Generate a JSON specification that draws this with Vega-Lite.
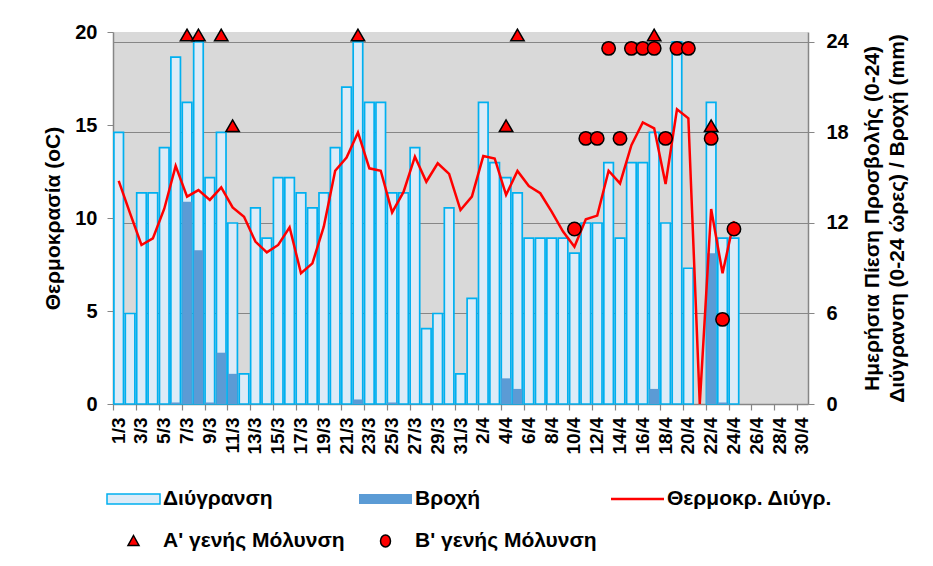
{
  "$schema": "https://vega.github.io/schema/vega-lite/v6.json",
  "width": 695,
  "height": 372,
  "autosize": {"type": "none"},
  "padding": {"left": 113, "top": 32, "right": 125, "bottom": 162},
  "background": "white",
  "config": {
    "font": "Liberation Sans",
    "view": {"fill": "#D9D9D9", "stroke": null},
    "axis": {"labelFont": "Liberation Sans", "labelFontWeight": "bold", "labelColor": "black", "titleFont": "Liberation Sans", "titleFontWeight": "bold", "titleColor": "black", "domainColor": "#868686", "tickColor": "#868686", "gridColor": "#868686"}
  },
  "data": {"values": [
    {"d": "1/3", "wet": 18, "rain": null, "temp": 12.0, "a": null, "b": null},
    {"d": "2/3", "wet": 6, "rain": null, "temp": 10.25, "a": null, "b": null},
    {"d": "3/3", "wet": 14, "rain": null, "temp": 8.55, "a": null, "b": null},
    {"d": "4/3", "wet": 14, "rain": null, "temp": 8.9, "a": null, "b": null},
    {"d": "5/3", "wet": 17, "rain": null, "temp": 10.5, "a": null, "b": null},
    {"d": "6/3", "wet": 23, "rain": 0.1, "temp": 12.8, "a": null, "b": null},
    {"d": "7/3", "wet": 20, "rain": 13.4, "temp": 11.15, "a": 19.84, "b": null},
    {"d": "8/3", "wet": 24, "rain": 10.2, "temp": 11.5, "a": 19.84, "b": null},
    {"d": "9/3", "wet": 15, "rain": 0.1, "temp": 10.97, "a": null, "b": null},
    {"d": "10/3", "wet": 18, "rain": 3.4, "temp": 11.65, "a": 19.84, "b": null},
    {"d": "11/3", "wet": 12, "rain": 2.0, "temp": 10.57, "a": 14.96, "b": null},
    {"d": "12/3", "wet": 2, "rain": null, "temp": 10.07, "a": null, "b": null},
    {"d": "13/3", "wet": 13, "rain": null, "temp": 8.73, "a": null, "b": null},
    {"d": "14/3", "wet": 11, "rain": null, "temp": 8.15, "a": null, "b": null},
    {"d": "15/3", "wet": 15, "rain": null, "temp": 8.55, "a": null, "b": null},
    {"d": "16/3", "wet": 15, "rain": null, "temp": 9.5, "a": null, "b": null},
    {"d": "17/3", "wet": 14, "rain": null, "temp": 7.03, "a": null, "b": null},
    {"d": "18/3", "wet": 13, "rain": null, "temp": 7.56, "a": null, "b": null},
    {"d": "19/3", "wet": 14, "rain": null, "temp": 9.53, "a": null, "b": null},
    {"d": "20/3", "wet": 17, "rain": null, "temp": 12.54, "a": null, "b": null},
    {"d": "21/3", "wet": 21, "rain": null, "temp": 13.25, "a": null, "b": null},
    {"d": "22/3", "wet": 24, "rain": 0.3, "temp": 14.6, "a": 19.84, "b": null},
    {"d": "23/3", "wet": 20, "rain": null, "temp": 12.67, "a": null, "b": null},
    {"d": "24/3", "wet": 20, "rain": null, "temp": 12.54, "a": null, "b": null},
    {"d": "25/3", "wet": 14, "rain": 0.1, "temp": 10.3, "a": null, "b": null},
    {"d": "26/3", "wet": 14, "rain": null, "temp": 11.4, "a": null, "b": null},
    {"d": "27/3", "wet": 17, "rain": null, "temp": 13.3, "a": null, "b": null},
    {"d": "28/3", "wet": 5, "rain": null, "temp": 11.95, "a": null, "b": null},
    {"d": "29/3", "wet": 6, "rain": null, "temp": 12.94, "a": null, "b": null},
    {"d": "30/3", "wet": 13, "rain": null, "temp": 12.37, "a": null, "b": null},
    {"d": "31/3", "wet": 2, "rain": null, "temp": 10.43, "a": null, "b": null},
    {"d": "1/4", "wet": 7, "rain": null, "temp": 11.15, "a": null, "b": null},
    {"d": "2/4", "wet": 20, "rain": null, "temp": 13.33, "a": null, "b": null},
    {"d": "3/4", "wet": 16, "rain": null, "temp": 13.2, "a": null, "b": null},
    {"d": "4/4", "wet": 15, "rain": 1.7, "temp": 11.24, "a": 14.96, "b": null},
    {"d": "5/4", "wet": 14, "rain": 1.0, "temp": 12.53, "a": 19.84, "b": null},
    {"d": "6/4", "wet": 11, "rain": null, "temp": 11.72, "a": null, "b": null},
    {"d": "7/4", "wet": 11, "rain": null, "temp": 11.33, "a": null, "b": null},
    {"d": "8/4", "wet": 11, "rain": null, "temp": 10.34, "a": null, "b": null},
    {"d": "9/4", "wet": 11, "rain": null, "temp": 9.27, "a": null, "b": null},
    {"d": "10/4", "wet": 10, "rain": null, "temp": 8.46, "a": null, "b": 9.41},
    {"d": "11/4", "wet": 12, "rain": null, "temp": 9.93, "a": null, "b": 14.28},
    {"d": "12/4", "wet": 12, "rain": null, "temp": 10.13, "a": null, "b": 14.28},
    {"d": "13/4", "wet": 16, "rain": null, "temp": 12.54, "a": null, "b": 19.12},
    {"d": "14/4", "wet": 11, "rain": null, "temp": 11.86, "a": null, "b": 14.28},
    {"d": "15/4", "wet": 16, "rain": null, "temp": 13.92, "a": null, "b": 19.12},
    {"d": "16/4", "wet": 16, "rain": null, "temp": 15.14, "a": null, "b": 19.12},
    {"d": "17/4", "wet": 18, "rain": 1.0, "temp": 14.82, "a": 19.84, "b": 19.12},
    {"d": "18/4", "wet": 12, "rain": null, "temp": 11.83, "a": null, "b": 14.28},
    {"d": "19/4", "wet": 24, "rain": null, "temp": 15.84, "a": null, "b": 19.12},
    {"d": "20/4", "wet": 9, "rain": null, "temp": 15.36, "a": null, "b": 19.12},
    {"d": "21/4", "wet": null, "rain": null, "temp": 0, "a": null, "b": null},
    {"d": "22/4", "wet": 20, "rain": 10, "temp": 10.48, "a": 14.96, "b": 14.28},
    {"d": "23/4", "wet": 11, "rain": 0.1, "temp": 7.03, "a": null, "b": 4.55},
    {"d": "24/4", "wet": 11, "rain": null, "temp": 9.84, "a": null, "b": 9.41},
    {"d": "25/4", "wet": null, "rain": null, "temp": null, "a": null, "b": null},
    {"d": "26/4", "wet": null, "rain": null, "temp": null, "a": null, "b": null},
    {"d": "27/4", "wet": null, "rain": null, "temp": null, "a": null, "b": null},
    {"d": "28/4", "wet": null, "rain": null, "temp": null, "a": null, "b": null},
    {"d": "29/4", "wet": null, "rain": null, "temp": null, "a": null, "b": null},
    {"d": "30/4", "wet": null, "rain": null, "temp": null, "a": null, "b": null}
  ]},
  "layer": [
    {
      "layer": [
        {
          "mark": {"type": "bar", "stroke": "#00B0F0", "strokeWidth": 1.7},
          "encoding": {
            "x": {"field": "d", "type": "ordinal", "sort": null,
              "scale": {"paddingInner": 0.16, "paddingOuter": 0.08,
                "domain": ["1/3","2/3","3/3","4/3","5/3","6/3","7/3","8/3","9/3","10/3","11/3","12/3","13/3","14/3","15/3","16/3","17/3","18/3","19/3","20/3","21/3","22/3","23/3","24/3","25/3","26/3","27/3","28/3","29/3","30/3","31/3","1/4","2/4","3/4","4/4","5/4","6/4","7/4","8/4","9/4","10/4","11/4","12/4","13/4","14/4","15/4","16/4","17/4","18/4","19/4","20/4","21/4","22/4","23/4","24/4","25/4","26/4","27/4","28/4","29/4","30/4"]},
              "axis": {"orient": "bottom", "title": null, "values": ["1/3","3/3","5/3","7/3","9/3","11/3","13/3","15/3","17/3","19/3","21/3","23/3","25/3","27/3","29/3","31/3","2/4","4/4","6/4","8/4","10/4","12/4","14/4","16/4","18/4","20/4","22/4","24/4","26/4","28/4","30/4"],
                "ticks": false, "domain": true, "domainWidth": 1.5, "labelAngle": 270, "labelAlign": "right", "labelBaseline": "middle", "labelFontSize": 19, "labelPadding": 13}},
            "y": {"field": "wet", "type": "quantitative", "scale": {"domain": [0, 24.66], "nice": false},
              "axis": {"orient": "right", "values": [0, 6, 12, 18, 24], "grid": true, "gridWidth": 1.2, "tickSize": 6, "labelFontSize": 20, "labelPadding": 12, "domainWidth": 1.5,
                "title": ["Ημερήσια Πίεση Προσβολής (0-24)", "Διύγρανση  (0-24 ώρες)  / Βροχή (mm)"], "titleFontSize": 21, "titleAngle": 270, "titleBaseline": "middle", "titleAlign": "center", "titleX": 64, "titleLineHeight": 25}},
            "color": {"datum": "Διύγρανση", "type": "nominal",
              "scale": {"domain": ["Διύγρανση", "Βροχή", "Θερμοκρ. Διύγρ.", "Α' γενής Μόλυνση", "Β' γενής Μόλυνση"], "range": ["#DDEBF7", "#5B9BD5", "#FF0000", "#FF0000", "#FF0000"]},
              "legend": {"orient": "none", "legendX": 9.5, "legendY": 456, "direction": "horizontal", "columns": 3, "title": null, "padding": 0,
                "symbolSize": 400, "symbolStrokeWidth": 1.5, "symbolOpacity": 1,
                "symbolType": {"expr": "datum.index < 2 ? 'M-2.65,-0.5H2.65V0.5H-2.65Z' : datum.index == 2 ? 'M-2.65,-0.12H2.65V0.12H-2.65Z' : datum.index == 3 ? 'M0,-0.55L0.55,0.45L-0.55,0.45Z' : 'M-0.5,0A0.5,0.6,0,1,0,0.5,0A0.5,0.6,0,1,0,-0.5,0Z'"},
                "symbolStrokeColor": {"expr": "datum.index == 0 ? '#00B0F0' : datum.index < 3 ? 'transparent' : 'black'"},
                "labelFont": "Liberation Sans", "labelFontSize": 21, "labelFontWeight": "bold", "labelColor": "black", "labelOffset": 18.5, "labelLimit": 400,
                "columnPadding": 10, "rowPadding": 21
              }}
          }
        },
        {
          "mark": {"type": "bar", "strokeWidth": 0},
          "encoding": {
            "x": {"field": "d", "type": "ordinal", "sort": null},
            "y": {"field": "rain", "type": "quantitative", "scale": {"domain": [0, 24.66], "nice": false}},
            "color": {"datum": "Βροχή", "type": "nominal"}
          }
        }
      ]
    },
    {
      "layer": [
        {
          "mark": {"type": "line", "strokeWidth": 2.5, "color": "#FF0000"},
          "encoding": {
            "x": {"field": "d", "type": "ordinal", "sort": null,
              "axis": {"orient": "bottom", "title": null, "values": ["1/3","3/3","5/3","7/3","9/3","11/3","13/3","15/3","17/3","19/3","21/3","23/3","25/3","27/3","29/3","31/3","2/4","4/4","6/4","8/4","10/4","12/4","14/4","16/4","18/4","20/4","22/4","24/4","26/4","28/4","30/4"],
                "labels": false, "domain": false, "ticks": true, "tickSize": 6, "bandPosition": 0, "tickWidth": 1.2}},
            "y": {"field": "temp", "type": "quantitative", "scale": {"domain": [0, 20], "nice": false},
              "axis": {"orient": "left", "values": [0, 5, 10, 15, 20], "grid": false, "tickSize": 6, "labelFontSize": 20, "labelPadding": 10, "domainWidth": 1.5,
                "title": "Θερμοκρασία (oC)", "titleFontSize": 21, "titleAngle": 270, "titleBaseline": "middle", "titleAlign": "center", "titleX": -60}}
          }
        },
        {
          "mark": {"type": "point", "shape": "triangle-up", "filled": true, "size": 180, "fill": "#FF0000", "stroke": "black", "strokeWidth": 1.5, "opacity": 1},
          "encoding": {
            "x": {"field": "d", "type": "ordinal", "sort": null},
            "y": {"field": "a", "type": "quantitative"}
          }
        },
        {
          "mark": {"type": "point", "shape": "circle", "filled": true, "size": 180, "fill": "#FF0000", "stroke": "black", "strokeWidth": 1.5, "opacity": 1},
          "encoding": {
            "x": {"field": "d", "type": "ordinal", "sort": null},
            "y": {"field": "b", "type": "quantitative"}
          }
        }
      ]
    }
  ],
  "resolve": {"scale": {"y": "independent"}, "axis": {"x": "independent"}}
}
